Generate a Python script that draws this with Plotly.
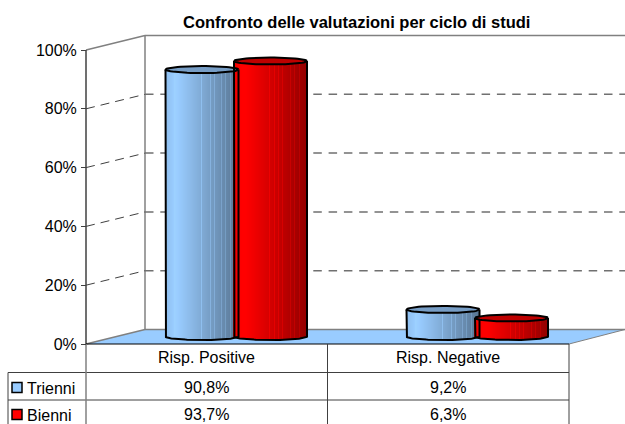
import plotly.graph_objects as go
import math

categories = ["Risp. Positive", "Risp. Negative"]
series_names = ["Trienni", "Bienni"]
trienni = [90.8, 9.2]
bienni = [93.7, 6.3]
ticks = [0, 20, 40, 60, 80, 100]

W, H = 625, 424
PX_PER_UNIT = 2.94
Y0_FRONT, Y0_MID, Y0_BACK = 344, 336.5, 329.5
X_FRONT, X_BACK, X_FRONT_R, X_BACK_R = 86, 145, 569, 625
CAT_X0, CAT_STEP = 236.25, 241
OFFS = [-34.25, 34.25]
R = 36.5
RY = 3.5
N = 73

FONT = "Liberation Sans, Arial, sans-serif"
px = lambda x: x / W
py = lambda y: 1 - y / H

shapes, annots = [], []
def line(x0, y0, x1, y1, color="#000", width=1, dash=None, layer="below"):
    shapes.append(dict(type="line", xref="paper", yref="paper", x0=px(x0), y0=py(y0), x1=px(x1), y1=py(y1),
                       line=dict(color=color, width=width, dash=dash), layer=layer))

# floor
fl = [(X_FRONT, Y0_FRONT), (X_BACK, Y0_BACK), (X_BACK_R, Y0_BACK), (X_FRONT_R, Y0_FRONT)]
shapes.append(dict(type="path", xref="paper", yref="paper", layer="below", fillcolor="#99CCFF", line=dict(width=0),
                   path="M" + " L".join(f"{px(a)},{py(b)}" for a, b in fl) + " Z"))
# walls
top_back = Y0_BACK - 100 * PX_PER_UNIT
top_front = Y0_FRONT - 100 * PX_PER_UNIT
line(X_BACK, Y0_BACK, X_BACK, top_back, "#808080", 1.5)
line(X_BACK, top_back, X_BACK_R, top_back, "#808080", 1.5)
line(X_FRONT, top_front, X_BACK, top_back, "#808080", 1.5)
line(X_FRONT, Y0_FRONT, X_BACK, Y0_BACK, "#808080", 1.5)
line(X_BACK, Y0_BACK, X_BACK_R, Y0_BACK, "#808080", 1.5)
for t in ticks[1:-1]:
    yb = Y0_BACK - t * PX_PER_UNIT
    yf = Y0_FRONT - t * PX_PER_UNIT
    line(X_FRONT, yf, X_BACK, yb, "#404040", 1, "9px,6px")
    line(X_BACK, yb, X_BACK_R, yb, "#707070", 1.5, "8.5px,6.8px")
# front axis
line(X_FRONT, top_front, X_FRONT, Y0_FRONT, "#404040", 1.5)
line(X_FRONT, Y0_FRONT, X_FRONT_R, Y0_FRONT, "#000", 1)
line(X_FRONT_R, Y0_FRONT, X_BACK_R, Y0_BACK, "#808080", 1)

# table
ROWS = [372.5, 400, 424]
COLS = [X_FRONT, (X_FRONT + X_FRONT_R) / 2, X_FRONT_R]
for r in ROWS[:2]:
    line(8, r, X_FRONT_R, r, "#404040", 1)
line(8, ROWS[0], 8, H, "#404040", 1)
line(X_FRONT, Y0_FRONT, X_FRONT, H, "#808080", 1.5)
line(COLS[1], Y0_FRONT, COLS[1], H, "#404040", 1)
line(COLS[2], Y0_FRONT, COLS[2], H, "#404040", 1)

def text(x, y, s, size=16, bold=False, anchor="center"):
    annots.append(dict(xref="paper", yref="paper", x=px(x), y=py(y), text=f"<b>{s}</b>" if bold else s,
                       showarrow=False, xanchor=anchor, yanchor="middle",
                       font=dict(family=FONT, size=size, color="#000"), align="center"))

text(356, 22, "Confronto delle valutazioni per ciclo di studi", 16.5, True)
fmt = lambda v: f"{v:.1f}%".replace(".", ",")
for i, c in enumerate(categories):
    mid = (COLS[i] + COLS[i + 1]) / 2
    text(mid, 357.5, c)
    text(mid, 387, fmt(trienni[i]))
    text(mid, 414.5, fmt(bienni[i]))
for j, (nm, col, yr) in enumerate(zip(series_names, ["#99CCFF", "#FF0000"], [387.5, 414.5])):
    text(25, yr + 0.5, nm, anchor="left")
    shapes.append(dict(type="rect", xref="paper", yref="paper", x0=px(12), x1=px(22), y0=py(yr - 5), y1=py(yr + 5),
                       fillcolor=col, line=dict(color="#000", width=1.5)))

# shading per strip, t in [0,1] across the cylinder
def shade(t, light_at):
    if t < light_at:
        return 0.93 + 0.07 * t / light_at
    return 1.03 - 0.45 * (t - light_at) / (1 - light_at)

def rgb(base, f):
    return "rgb(%d,%d,%d)" % tuple(min(255, round(c * f)) for c in base)

COLORS = {"Trienni": ((153, 204, 255), (119, 157, 197)), "Bienni": ((255, 0, 0), (190, 0, 0))}
STREAKS = {"Trienni": [36, 45, 49, 56, 60, 65], "Bienni": [36, 41, 45, 49, 57, 61, 66]}

fig = go.Figure()
AX = dict(xaxis="x", yaxis="y2")
for s_i, (name, vals) in enumerate(zip(series_names, [trienni, bienni])):
    base_col, top_col = COLORS[name]
    rx = R / CAT_STEP
    ry = RY / PX_PER_UNIT
    off = OFFS[s_i] / CAT_STEP
    for c_i, v in enumerate(vals):
        cx = c_i + off
        xs, ys, bases, cols = [], [], [], []
        for k in range(N):
            t = (k + .5) / N
            u = 2 * t - 1
            s = math.sqrt(1 - u * u)
            xs.append(cx + u * rx)
            ys.append(v)
            bases.append(-ry * s)
            f = shade(t, 0.12)
            if k in STREAKS[name]:
                f += 0.10
            cols.append(rgb(base_col, f))
        fig.add_trace(go.Bar(x=xs, y=ys, base=bases, width=2 * rx / N * 1.3, marker=dict(color=cols, line=dict(width=0)),
                             showlegend=False, hoverinfo="skip", **AX))
        # top ellipse and outline
        M = 60
        ang = [2 * math.pi * i / M for i in range(M + 1)]
        fig.add_trace(go.Scatter(x=[cx + rx * math.cos(a) for a in ang], y=[v + ry * math.sin(a) for a in ang],
                                 mode="lines", fill="toself", fillcolor=rgb(top_col, 1),
                                 line=dict(color="#000", width=2), showlegend=False, hoverinfo="skip", **AX))
        # silhouette sides and bottom arc
        arc = [math.pi + math.pi * i / M for i in range(M + 1)]
        sx = [cx - rx] + [cx + rx * math.cos(a) for a in arc] + [cx + rx]
        sy = [v] + [ry * math.sin(a) for a in arc] + [v]
        fig.add_trace(go.Scatter(x=sx, y=sy, mode="lines", line=dict(color="#000", width=2),
                                 showlegend=False, hoverinfo="skip", **AX))

fig.update_layout(
    width=W, height=H, margin=dict(l=0, r=0, t=0, b=0), paper_bgcolor="#fff", plot_bgcolor="rgba(0,0,0,0)",
    showlegend=False, barmode="overlay", shapes=shapes, annotations=annots,
    xaxis=dict(domain=[0, 1], range=[(0 - CAT_X0) / CAT_STEP, (W - CAT_X0) / CAT_STEP], visible=False),
    yaxis=dict(domain=[0, 1], range=[(Y0_FRONT - H) / PX_PER_UNIT, Y0_FRONT / PX_PER_UNIT],
               tickmode="array", tickvals=ticks, ticktext=[f"{t}%" for t in ticks],
               anchor="free", position=px(X_FRONT), side="left", ticks="outside", ticklen=5, tickcolor="#404040", tickwidth=1,
               ticklabelstandoff=1, showgrid=False, zeroline=False, showline=False,
               tickfont=dict(family=FONT, size=16, color="#000")),
    yaxis2=dict(domain=[0, 1], range=[(Y0_MID - H) / PX_PER_UNIT, Y0_MID / PX_PER_UNIT], overlaying="y", visible=False),
)
# keep the front axis alive for its tick labels
fig.add_trace(go.Scatter(x=[0], y=[0], xaxis="x", yaxis="y", mode="markers", marker=dict(opacity=0), showlegend=False, hoverinfo="skip"))
fig.write_html("out.html", config={"displayModeBar": False}, post_script="document.body.style.margin='0';")
